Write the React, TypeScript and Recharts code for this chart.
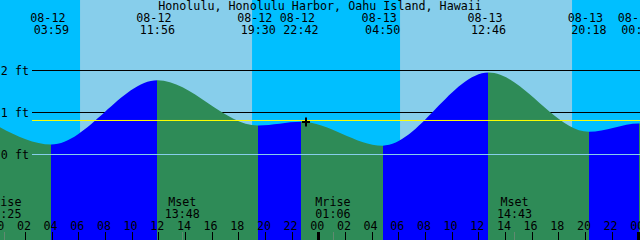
import React from "react";
import {
  ComposedChart,
  Area,
  XAxis,
  YAxis,
  ReferenceArea,
  ReferenceLine,
  ReferenceDot,
} from "recharts";

// ---------- data ----------
const titleText = "Honolulu, Honolulu Harbor, Oahu Island, Hawaii";

// tide extremes (date time, feet); first and last lie just outside the window
const tideStamps = [
  "08-11 23:30",
  "08-12 03:59",
  "08-12 11:56",
  "08-12 19:30",
  "08-12 22:42",
  "08-13 04:50",
  "08-13 12:46",
  "08-13 20:18",
  "08-14 00:03",
  "08-14 05:40",
];
const tideFeet = [0.76, 0.24, 1.77, 0.69, 0.78, 0.21, 1.95, 0.54, 0.74, 0.2];

const sunriseStamps = ["08-12 06:08", "08-13 06:08"];
const sunsetStamps = ["08-12 19:02", "08-13 19:02"];

const moonStamps = ["08-12 00:25", "08-12 13:48", "08-13 01:06", "08-13 14:43"];
const moonKinds = ["Mrise", "Mset", "Mrise", "Mset"];

const hourTicks = [0, 2, 4, 6, 8, 10, 12, 14, 16, 18, 20, 22, 24, 26, 28, 30, 32, 34, 36, 38, 40, 42, 44, 46, 48];
const gridFeet = [2, 1];
const meanLevelFeet = 0.81;
const nowStamp = "08-12 23:04";
const nowFeet = 0.78;

// ---------- layout / style ----------
const W = 640;
const H = 240;
const FONT = "'DejaVu Sans Mono', 'Liberation Mono', monospace";
const FS = 11.7;
const NIGHT = "#00BFFF";
const DAY = "#87CEEB";
const RISE = "#0000FF";
const FALL = "#2E8B57";
const windowStart = 0.13; // hours after 08-12 00:00
const windowHours = 48;
const windowEnd = windowStart + windowHours;
const yDomain: [number, number] = [-2.0357, 3.6786];
const pxToHours = (px: number) => (px / W) * windowHours;

const toHours = (stamp: string) => {
  const [date, time] = stamp.split(" ");
  const day = parseInt(date.split("-")[1], 10) - 12;
  const [hh, mm] = time.split(":").map((s) => parseInt(s, 10));
  return day * 24 + hh + mm / 60;
};

const tideData = tideStamps.map((s, i) => ({ t: toHours(s), ft: tideFeet[i] }));
const tideLabels = tideStamps
  .map((s, i) => ({ t: toHours(s), date: s.split(" ")[0], time: s.split(" ")[1], i }))
  .filter((e) => e.t >= windowStart && e.t <= windowEnd);
const tideTickHours = tideLabels.map((e) => e.t);

const moonEvents = moonStamps.map((s, i) => ({ t: toHours(s), kind: moonKinds[i], time: s.split(" ")[1] }));
const moonTickHours = moonEvents.map((e) => e.t);

// gradient stops: rising segments blue, falling green
const frac = (t: number) => Math.min(1, Math.max(0, (t - windowStart) / windowHours));
const gradStops: { off: number; color: string }[] = [];
for (let i = 0; i < tideData.length - 1; i++) {
  const color = tideData[i + 1].ft > tideData[i].ft ? RISE : FALL;
  gradStops.push({ off: frac(tideData[i].t), color });
  gradStops.push({ off: frac(tideData[i + 1].t), color });
}

const txt = { fontFamily: FONT, fontSize: FS, fill: "#000" } as const;

const HourTick = (p: any) => {
  const v = p.payload.value as number;
  const x = p.x as number;
  const midnight = v % 24 === 0;
  const xr = Math.round(x);
  return (
    <g>
      <text x={x - 1} y={229.5} textAnchor="middle" {...txt}>
        {String(v % 24).padStart(2, "0")}
      </text>
      {midnight ? (
        <rect x={xr - 1} y={232} width={3} height={8} fill="#000" />
      ) : (
        <line x1={xr + 0.5} x2={xr + 0.5} y1={232} y2={240} stroke="#000" strokeWidth={1} />
      )}
    </g>
  );
};

const TideTick = (p: any) => {
  const v = p.payload.value as number;
  const x = p.x as number;
  const ev = tideLabels.find((e) => Math.abs(e.t - v) < 1e-6);
  if (!ev) return <g />;
  return (
    <g>
      <text x={x - 3.5} y={22} textAnchor="middle" {...txt}>
        {ev.date}
      </text>
      <text x={x} y={34} textAnchor="middle" {...txt}>
        {ev.time}
      </text>
    </g>
  );
};

const MoonTick = (p: any) => {
  const v = p.payload.value as number;
  const x = p.x as number;
  const ev = moonEvents.find((e) => Math.abs(e.t - v) < 1e-6);
  if (!ev) return <g />;
  const xr = Math.round(x);
  return (
    <g>
      <text x={x} y={206} textAnchor="middle" {...txt}>
        {ev.kind}
      </text>
      <text x={x} y={218} textAnchor="middle" {...txt}>
        {ev.time}
      </text>
      <line x1={xr + 0.5} x2={xr + 0.5} y1={232} y2={240} stroke="#5f8a70" strokeWidth={1} />
    </g>
  );
};

const feetLabel = (text: string) => (p: any) => {
  const vb = p.viewBox || {};
  return (
    <text x={vb.x - 3} y={vb.y + 4.2} textAnchor="end" {...txt}>
      {text}
    </text>
  );
};

const Cross = (p: any) => {
  const cx = Math.round(p.cx);
  const cy = Math.round(p.cy);
  return (
    <g>
      <line x1={cx - 4} x2={cx + 4} y1={cy} y2={cy} stroke="#000" strokeWidth={2} />
      <line x1={cx} x2={cx} y1={cy - 4.5} y2={cy + 4.5} stroke="#000" strokeWidth={2} />
    </g>
  );
};

const lineStartHour = windowStart + pxToHours(32);

const axisCommon = {
  type: "number" as const,
  dataKey: "t",
  domain: [windowStart, windowEnd],
  allowDataOverflow: true,
  interval: 0 as const,
  height: 30,
  mirror: true,
  axisLine: false,
  tickLine: false,
};

export default function App() {
  return (
    <div style={{ position: "absolute", left: 0, top: 0, width: W, height: H, background: NIGHT }}>
      <style>{"body{margin:0}"}</style>
      <ComposedChart
        width={W}
        height={H}
        data={tideData}
        margin={{ top: 0, right: 0, bottom: 0, left: 0 }}
      >
        <defs>
          <linearGradient id="tideFill" gradientUnits="userSpaceOnUse" x1={0} y1={0} x2={W} y2={0}>
            {gradStops.map((s, i) => (
              <stop key={i} offset={s.off} stopColor={s.color} />
            ))}
          </linearGradient>
        </defs>
        <XAxis
          xAxisId="hours"
          {...axisCommon}
          ticks={hourTicks}
          tick={(p: any) => <HourTick {...p} />}
        />
        <XAxis
          xAxisId="moon"
          {...axisCommon}
          ticks={moonTickHours}
          tick={(p: any) => <MoonTick {...p} />}
        />
        <XAxis
          xAxisId="tides"
          orientation="top"
          {...axisCommon}
          ticks={tideTickHours}
          tick={(p: any) => <TideTick {...p} />}
        />
        <YAxis type="number" domain={yDomain} allowDataOverflow hide />

        {sunriseStamps.map((s, i) => (
          <ReferenceArea
            key={"day" + i}
            xAxisId="hours"
            x1={toHours(s)}
            x2={toHours(sunsetStamps[i])}
            y1={yDomain[0]}
            y2={yDomain[1]}
            fill={DAY}
            fillOpacity={1}
            stroke="none"
            ifOverflow="hidden"
            {...({ zIndex: -200 } as any)}
          />
        ))}
        {gridFeet.map((f) => (
          <ReferenceLine
            key={"g" + f}
            xAxisId="hours"
            segment={[
              { x: lineStartHour, y: f },
              { x: windowEnd, y: f },
            ]}
            stroke="#000"
            strokeWidth={1}
            label={feetLabel(`${f} ft`)}
            {...({ zIndex: -150 } as any)}
          />
        ))}
        <Area
          xAxisId="hours"
          type="monotone"
          dataKey="ft"
          stroke="none"
          fill="url(#tideFill)"
          fillOpacity={1}
          baseValue="dataMin"
          dot={false}
          activeDot={false}
          isAnimationActive={false}
        />
        <ReferenceLine
          xAxisId="hours"
          segment={[
            { x: lineStartHour, y: meanLevelFeet },
            { x: windowEnd, y: meanLevelFeet },
          ]}
          stroke="#FFFF00"
          strokeWidth={1}
          {...({ zIndex: 450 } as any)}
        />
        <ReferenceLine
          xAxisId="hours"
          segment={[
            { x: lineStartHour, y: 0 },
            { x: windowEnd, y: 0 },
          ]}
          stroke={DAY}
          strokeWidth={1}
          label={feetLabel("0 ft")}
          {...({ zIndex: 450 } as any)}
        />
        <ReferenceDot
          xAxisId="hours"
          x={toHours(nowStamp)}
          y={nowFeet}
          shape={(p: any) => <Cross {...p} />}
          {...({ zIndex: 460 } as any)}
        />
        <text x={W / 2} y={10} textAnchor="middle" {...txt}>
          {titleText}
        </text>
      </ComposedChart>
    </div>
  );
}
